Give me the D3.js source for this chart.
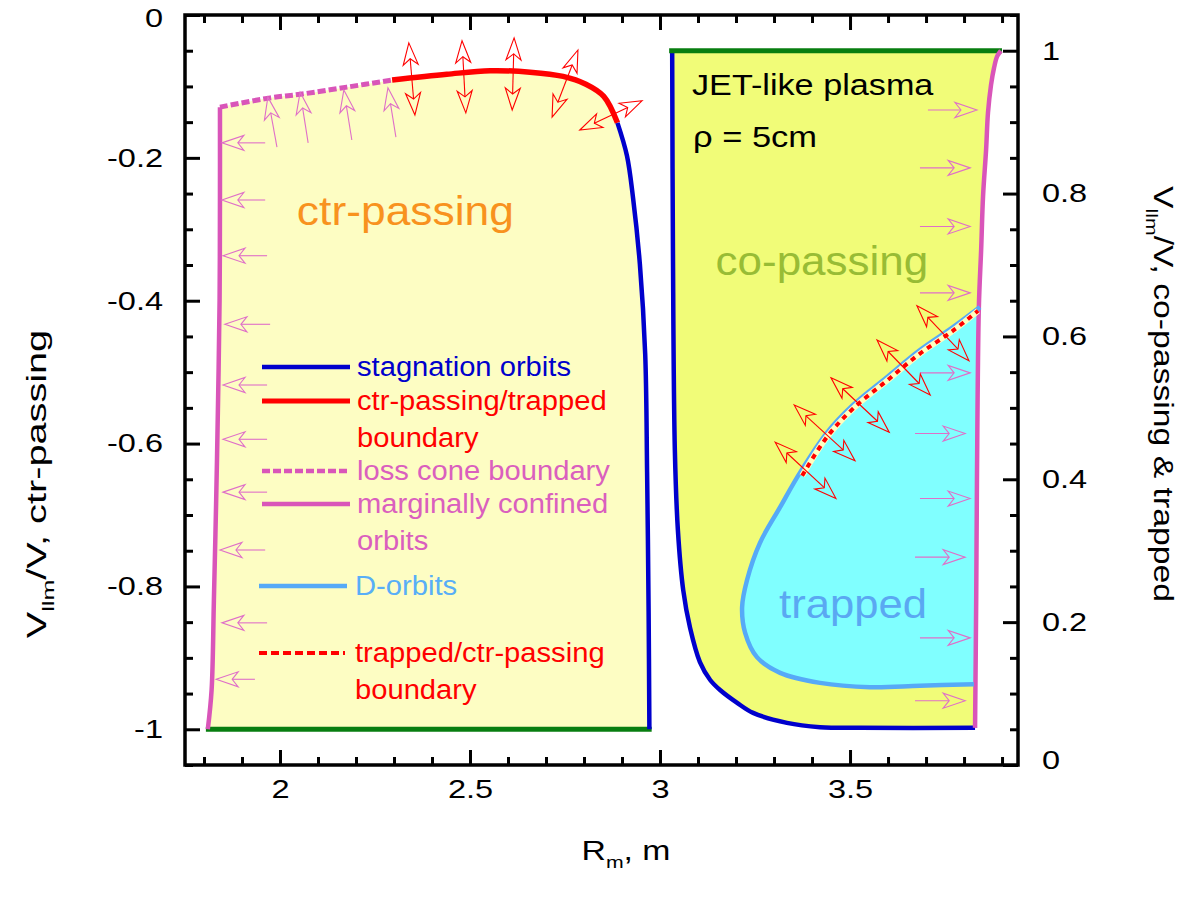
<!DOCTYPE html>
<html>
<head>
<meta charset="utf-8">
<script src="https://cdn.jsdelivr.net/npm/d3@7"></script>
<style>
  html, body { margin: 0; padding: 0; background: #fff; }
  svg text { font-family: "Liberation Sans", Arial, Helvetica, sans-serif; }
</style>
</head>
<body>
<svg id="chart" width="1200" height="914"></svg>
<script>
// ---------------- axis ticks ----------------
const rMajorTicks = [2, 2.5, 3, 3.5];
const rTickLabels = ["2", "2.5", "3", "3.5"];
const rMinorTicks = [1.8, 1.9, 2.1, 2.2, 2.3, 2.4, 2.6, 2.7, 2.8, 2.9, 3.1, 3.2, 3.3, 3.4, 3.6, 3.7, 3.8, 3.9];
const vLeftMajor = [0, -0.2, -0.4, -0.6, -0.8, -1];
const vLeftLabels = ["0", "-0.2", "-0.4", "-0.6", "-0.8", "-1"];
const vRightMajor = [1, 0.8, 0.6, 0.4, 0.2, 0];
const vRightLabels = ["1", "0.8", "0.6", "0.4", "0.2", "0"];

// ---------------- ctr-passing side (left axis: V||m/V < 0) ----------------
// marginally confined orbits, inner wall
const ctrMarginal = [[1.810, -1.0], [1.820, -0.945], [1.826, -0.82], [1.832, -0.68], [1.837, -0.54],
                     [1.841, -0.40], [1.842, -0.25], [1.842, -0.129]];
// loss cone boundary
const lossCone = [[1.842, -0.129], [1.974, -0.116], [2.053, -0.111], [2.176, -0.101], [2.295, -0.091]];
// ctr-passing / trapped boundary
const ctrTrapped = [[2.295, -0.091], [2.439, -0.083], [2.553, -0.078], [2.658, -0.080], [2.745, -0.086],
                    [2.805, -0.097], [2.852, -0.114], [2.888, -0.151]];
// stagnation orbits (ctr side)
const stagnationCtr = [[2.888, -0.151], [2.913, -0.197], [2.929, -0.256], [2.947, -0.349], [2.961, -0.475],
                       [2.966, -0.640], [2.970, -0.837], [2.972, -1.0]];
// V||m/V = -1 edge
const ctrEdge = [[1.805, -1.0], [2.978, -1.0]];

// ---------------- co-passing & trapped side (right axis) ----------------
const coEdge = [[3.024, 1.0], [3.900, 1.0]];
const stagnationCo = [[3.032, 1.0], [3.034, 0.721], [3.039, 0.441], [3.047, 0.329], [3.061, 0.245],
                      [3.079, 0.192], [3.105, 0.144], [3.132, 0.119], [3.158, 0.105], [3.203, 0.087],
                      [3.245, 0.073], [3.334, 0.059], [3.421, 0.053], [3.526, 0.052], [3.829, 0.052]];
const coMarginal = [[3.829, 0.052], [3.832, 0.231], [3.834, 0.399], [3.839, 0.641], [3.845, 0.721],
                    [3.850, 0.796], [3.858, 0.861], [3.863, 0.913], [3.871, 0.952], [3.879, 0.976],
                    [3.887, 0.992], [3.897, 1.0]];
const dOrbits = [[3.842, 0.641], [3.771, 0.613], [3.684, 0.581], [3.597, 0.543], [3.508, 0.504],
                 [3.439, 0.465], [3.368, 0.409], [3.316, 0.361], [3.263, 0.311], [3.229, 0.259],
                 [3.216, 0.221], [3.224, 0.185], [3.255, 0.151], [3.316, 0.129], [3.421, 0.115],
                 [3.553, 0.109], [3.684, 0.111], [3.826, 0.113]];
const trappedCtrBoundary = [[3.374, 0.405], [3.439, 0.459], [3.508, 0.499], [3.597, 0.538],
                            [3.684, 0.576], [3.771, 0.608], [3.837, 0.636]];

// ---------------- drift arrows ----------------
// horizontal arrows toward the inner wall: [tail R, tip R, V]
const ctrWallArrows = [[1.961, 1.847, -0.179], [1.961, 1.847, -0.259], [1.966, 1.850, -0.337],
                       [1.974, 1.855, -0.433], [1.966, 1.850, -0.518], [1.966, 1.850, -0.594],
                       [1.966, 1.850, -0.668], [1.961, 1.842, -0.749], [1.966, 1.847, -0.851],
                       [1.934, 1.832, -0.930]];
// arrows into the loss cone: [tail R, tail V, tip R, tip V]
const lossConeArrows = [[1.992, -0.185, 1.968, -0.115], [2.074, -0.179, 2.053, -0.108],
                        [2.189, -0.175, 2.168, -0.105], [2.305, -0.171, 2.284, -0.102]];
// two-way transitions across ctr-passing/trapped boundary: [R1, V1, R2, V2]
const ctrTrappedArrows = [[2.355, -0.140, 2.339, -0.039], [2.489, -0.137, 2.479, -0.036],
                          [2.611, -0.133, 2.616, -0.032], [2.716, -0.143, 2.784, -0.049],
                          [2.789, -0.161, 2.953, -0.120]];
// horizontal arrows toward the outer wall: [tail R, tip R, V]
const coWallArrows = [[3.705, 3.834, 0.917], [3.684, 3.816, 0.836], [3.684, 3.816, 0.754],
                      [3.684, 3.816, 0.661], [3.684, 3.816, 0.549], [3.671, 3.803, 0.464],
                      [3.684, 3.816, 0.373], [3.671, 3.803, 0.291], [3.684, 3.816, 0.178],
                      [3.671, 3.803, 0.090]];
// two-way transitions across trapped/ctr-passing boundary: [R1, V1, R2, V2]
const trappedArrows = [[3.676, 0.643, 3.813, 0.566], [3.571, 0.595, 3.711, 0.518],
                       [3.450, 0.542, 3.603, 0.466], [3.353, 0.504, 3.513, 0.426],
                       [3.303, 0.452, 3.463, 0.373]];

// ---------------- legend ----------------
const legendLabels = [["stagnation orbits"], ["ctr-passing/trapped", "boundary"], ["loss cone boundary"],
                      ["marginally confined", "orbits"], ["D-orbits"], ["trapped/ctr-passing", "boundary"]];

// ---------------- colours ----------------
const C = {
  blue: "#0000CC", red: "#FF0000", magenta: "#D955B9", pink: "#DF6FC8", green: "#087E10",
  dblue: "#56AAF7", ctrFill: "#FDFDC3", coFill: "#F1FC78", trapFill: "#80FFFF",
  orange: "#F8921E", olive: "#98BC35", trapText: "#5AA8F2"
};

// ================= drawing =================
const svg = d3.select("#chart");
const L = 185, R = 1018, T = 15, B = 765;
const x = d3.scaleLinear().domain([1.75, 3.942]).range([L, R]);
const yL = d3.scaleLinear().domain([-1.05, 0]).range([B, T]);
const yR = d3.scaleLinear().domain([0, 1.05]).range([B, T]);

const curveL = d3.line().x(d => x(d[0])).y(d => yL(d[1])).curve(d3.curveCatmullRom.alpha(0.5));
const curveR = d3.line().x(d => x(d[0])).y(d => yR(d[1])).curve(d3.curveCatmullRom.alpha(0.5));
const straightL = d3.line().x(d => x(d[0])).y(d => yL(d[1]));
const straightR = d3.line().x(d => x(d[0])).y(d => yR(d[1]));

// stretch glyphs horizontally along the text direction
function widen(sel, k) {
  sel.each(function () {
    const w = this.getComputedTextLength();
    this.setAttribute("textLength", (w * k).toFixed(1));
    this.setAttribute("lengthAdjust", "spacingAndGlyphs");
  });
  return sel;
}

// chain several curve pieces into one closed outline
function outline(gen, pieces) {
  return pieces.map((p, i) => (i === 0 ? gen(p) : "L" + gen(p).slice(1))).join("") + "Z";
}

// region fills
svg.append("path").attr("fill", C.ctrFill)
  .attr("d", outline(curveL, [ctrMarginal, lossCone, ctrTrapped, stagnationCtr]));
svg.append("path").attr("fill", C.coFill)
  .attr("d", outline(curveR, [stagnationCo.slice().reverse(), coMarginal.slice().reverse()]));
svg.append("path").attr("fill", C.trapFill).attr("d", outline(curveR, [dOrbits]));

// boundary curves
function stroke(path, color, w, dash) {
  const p = svg.append("path").attr("d", path).attr("fill", "none")
    .attr("stroke", color).attr("stroke-width", w);
  if (dash) p.attr("stroke-dasharray", dash);
  return p;
}
stroke(straightL(ctrEdge), C.green, 5);
stroke(curveL(ctrMarginal), C.magenta, 4.5);
stroke(curveL(lossCone), C.magenta, 5, "8,3");
stroke(curveL(ctrTrapped), C.red, 5.5);
stroke(curveL(stagnationCtr), C.blue, 4.5);

stroke(curveR(stagnationCo), C.blue, 4.5);
stroke(straightR(coEdge), C.green, 5);
stroke(curveR(coMarginal), C.magenta, 4.5);
stroke(curveR(dOrbits), C.dblue, 4.5);
stroke(curveR(trappedCtrBoundary), "#FFFFC0", 6);
stroke(curveR(trappedCtrBoundary), C.red, 4, "5,5");

// open arrows
const HEAD_L = 22, HEAD_W = 7.5, NOTCH = 16;
function head(g, tip, from, color) {
  const a = Math.atan2(tip[1] - from[1], tip[0] - from[0]);
  const c = Math.cos(a), s = Math.sin(a);
  const pt = (u, v) => [tip[0] + u * c - v * s, tip[1] + u * s + v * c];
  const poly = [pt(0, 0), pt(-HEAD_L, HEAD_W), pt(-NOTCH, 0), pt(-HEAD_L, -HEAD_W)];
  g.append("path").attr("d", "M" + poly.map(p => p.join(",")).join("L") + "Z")
    .attr("fill", "none").attr("stroke", color).attr("stroke-width", 1.1);
  return pt(-NOTCH, 0);
}
function arrow(p0, p1, color, both) {
  const g = svg.append("g");
  const e1 = head(g, p1, p0, color);
  const e0 = both ? head(g, p0, p1, color) : p0;
  g.append("line").attr("x1", e0[0]).attr("y1", e0[1]).attr("x2", e1[0]).attr("y2", e1[1])
    .attr("stroke", color).attr("stroke-width", 1.1);
}
ctrWallArrows.forEach(d => arrow([x(d[0]), yL(d[2])], [x(d[1]), yL(d[2])], C.pink, false));
lossConeArrows.forEach(d => arrow([x(d[0]), yL(d[1])], [x(d[2]), yL(d[3])], C.pink, false));
ctrTrappedArrows.forEach(d => arrow([x(d[0]), yL(d[1])], [x(d[2]), yL(d[3])], C.red, true));
coWallArrows.forEach(d => arrow([x(d[0]), yR(d[2])], [x(d[1]), yR(d[2])], C.pink, false));
trappedArrows.forEach(d => arrow([x(d[0]), yR(d[1])], [x(d[2]), yR(d[3])], C.red, true));

// region labels
function label(px, py, txt, color, size, k) {
  return widen(svg.append("text").attr("x", px).attr("y", py).attr("text-anchor", "middle")
    .attr("dy", "0.35em").attr("fill", color).attr("font-size", size).text(txt), k);
}
label(x(2.33), yL(-0.275), "ctr-passing", C.orange, 40, 1.11);
label(x(3.426), yR(0.705), "co-passing", C.olive, 40, 1.1);
label(x(3.508), yR(0.225), "trapped", C.trapText, 40, 1.09);
widen(svg.append("text").attr("x", 692).attr("y", 95).attr("font-size", 30).attr("fill", "#000")
  .text("JET-like plasma"), 1.14);
widen(svg.append("text").attr("x", 693).attr("y", 147).attr("font-size", 30).attr("fill", "#000")
  .text("ρ = 5cm"), 1.15);

// legend
const legendRows = [
  { y: 367, color: C.blue, w: 4.5, dash: null, x0: 262, x1: 350, tx: 357 },
  { y: 401, color: C.red, w: 5, dash: null, x0: 262, x1: 350, tx: 357 },
  { y: 471, color: C.magenta, w: 4.5, dash: "8,3", x0: 262, x1: 348, tx: 357 },
  { y: 504, color: C.magenta, w: 4.5, dash: null, x0: 262, x1: 350, tx: 357 },
  { y: 586, color: C.dblue, w: 4.5, dash: null, x0: 259, x1: 347, tx: 355 },
  { y: 653, color: C.red, w: 4, dash: "8,4", x0: 259, x1: 345, tx: 355 }
];
const legendText = ["#0000CC", "#FF0000", "#DA5FBE", "#DA5FBE", "#58AEF7", "#FF0000"];
legendRows.forEach((r, i) => {
  stroke(`M${r.x0},${r.y}H${r.x1}`, r.color, r.w, r.dash);
  legendLabels[i].forEach((t, j) => {
    widen(svg.append("text").attr("x", r.tx).attr("y", r.y + j * 37).attr("dy", "0.35em")
      .attr("font-size", 27).attr("fill", legendText[i]).text(t), 1.08);
  });
});

// ---------------- axes ----------------
function styleAxis(g) {
  g.select(".domain").remove();
  g.selectAll(".tick line").attr("stroke", "#000").attr("stroke-width", 3);
  g.selectAll("text").attr("font-size", 26).attr("fill", "#000")
    .attr("font-family", '"Liberation Sans", Arial, sans-serif');
  widen(g.selectAll("text").filter(function () { return this.textContent !== ""; }), 1.25);
}
const vLeftMinor = d3.range(-1.05, 0.001, 0.05).map(v => +v.toFixed(2)).filter(v => !vLeftMajor.includes(v));
const vRightMinor = d3.range(0, 1.051, 0.05).map(v => +v.toFixed(2)).filter(v => !vRightMajor.includes(v));

// bottom
svg.append("g").attr("transform", `translate(0,${B})`)
  .call(d3.axisBottom(x).tickValues(rMinorTicks).tickSize(-8).tickFormat(""))
  .call(styleAxis);
svg.append("g").attr("transform", `translate(0,${B})`)
  .call(d3.axisBottom(x).tickValues(rMajorTicks).tickSize(-15).tickPadding(15)
    .tickFormat((d, i) => rTickLabels[i]))
  .call(styleAxis);
// top
svg.append("g").attr("transform", `translate(0,${T})`)
  .call(d3.axisTop(x).tickValues(rMinorTicks).tickSize(-8).tickFormat("")).call(styleAxis);
svg.append("g").attr("transform", `translate(0,${T})`)
  .call(d3.axisTop(x).tickValues(rMajorTicks).tickSize(-15).tickFormat("")).call(styleAxis);
// left
svg.append("g").attr("transform", `translate(${L},0)`)
  .call(d3.axisLeft(yL).tickValues(vLeftMinor).tickSize(-8).tickFormat("")).call(styleAxis);
const leftAxis = svg.append("g").attr("transform", `translate(${L},0)`)
  .call(d3.axisLeft(yL).tickValues(vLeftMajor).tickSize(-15).tickPadding(22)
    .tickFormat((d, i) => vLeftLabels[i]))
  .call(styleAxis);
// right
svg.append("g").attr("transform", `translate(${R},0)`)
  .call(d3.axisRight(yR).tickValues(vRightMinor).tickSize(-8).tickFormat("")).call(styleAxis);
const rightAxis = svg.append("g").attr("transform", `translate(${R},0)`)
  .call(d3.axisRight(yR).tickValues(vRightMajor).tickSize(-15).tickPadding(24)
    .tickFormat((d, i) => vRightLabels[i]))
  .call(styleAxis);
// keep the corner labels clear of the frame corners
leftAxis.selectAll(".tick").filter(d => d === 0).select("text").attr("y", 3);
rightAxis.selectAll(".tick").filter(d => d === 0).select("text").attr("y", -5);

// frame
svg.append("rect").attr("x", L).attr("y", T).attr("width", R - L).attr("height", B - T)
  .attr("fill", "none").attr("stroke", "#000").attr("stroke-width", 3.5);

// axis titles (stretched along the reading direction)
function title(transform, main, sub, rest) {
  const t = svg.append("text").attr("font-size", 27).attr("text-anchor", "middle")
    .attr("transform", transform);
  t.append("tspan").text(main);
  t.append("tspan").attr("font-size", 17).attr("dy", 8).text(sub);
  t.append("tspan").attr("dy", -8).text(rest);
}
title("translate(46,484) rotate(-90) scale(1.47,1)", "V", "llm", "/V, ctr-passing");
title("translate(1154,394) rotate(90) scale(1.25,1)", "V", "llm", "/V, co-passing & trapped");
title("translate(626,860) scale(1.25,1)", "R", "m", ", m");
</script>
</body>
</html>
